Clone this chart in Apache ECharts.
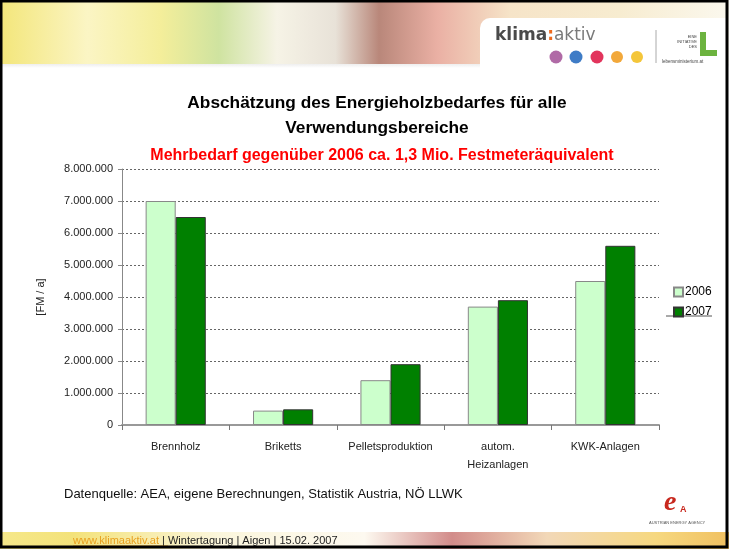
<!DOCTYPE html>
<html>
<head>
<meta charset="utf-8">
<script src="https://cdn.jsdelivr.net/npm/echarts@6/dist/echarts.min.js"></script>
<style>
  html, body { margin: 0; padding: 0; background: #fff; }
  #main { width: 729px; height: 549px; }
</style>
</head>
<body>
<div id="main"></div>
<script>
// categories and values (FM / a)
const categories = ['Brennholz', 'Briketts', 'Pelletsproduktion', 'autom.\nHeizanlagen', 'KWK-Anlagen'];
const values2006 = [7000000, 450000, 1400000, 3700000, 4500000];
const values2007 = [6500000, 490000, 1900000, 3900000, 5600000];
const seriesNames = ['2006', '2007'];

const fmt = function (v) {
    return String(v).replace(/\B(?=(\d{3})+(?!\d))/g, '.');
};

let chart = echarts.init(document.getElementById('main'));

let option = {
    animation: false,
    backgroundColor: '#fff',
    title: [{
        text: 'Abschätzung des Energieholzbedarfes für alle\nVerwendungsbereiche',
        left: 372,
        top: 86,
        textAlign: 'center',
        textStyle: {
            fontFamily: 'Liberation Sans',
            fontSize: 17.3,
            fontWeight: 'bold',
            color: '#000',
            lineHeight: 25
        }
    }, {
        text: 'Mehrbedarf gegenüber 2006 ca. 1,3 Mio. Festmeteräquivalent',
        left: 377,
        top: 143,
        textAlign: 'center',
        textStyle: {
            fontFamily: 'Liberation Sans',
            fontSize: 16,
            fontWeight: 'bold',
            color: '#ff0000'
        }
    }],
    legend: {
        orient: 'vertical',
        left: 668,
        top: 281,
        itemWidth: 9,
        itemHeight: 9,
        itemGap: 8,
        icon: 'rect',
        data: seriesNames,
        textStyle: {
            fontFamily: 'Liberation Sans',
            fontSize: 12,
            color: '#000',
            padding: [0, 0, 0, -3]
        }
    },
    grid: {
        left: 122,
        right: 70,
        top: 169,
        bottom: 124
    },
    xAxis: {
        type: 'category',
        data: categories,
        axisLine: { lineStyle: { color: '#999', width: 2 } },
        axisTick: { show: true, interval: 0, alignWithLabel: false, length: 5, lineStyle: { color: '#777' } },
        axisLabel: {
            interval: 0,
            fontFamily: 'Liberation Sans',
            fontSize: 11,
            color: '#222',
            margin: 13,
            lineHeight: 18
        }
    },
    yAxis: {
        type: 'value',
        min: 0,
        max: 8000000,
        interval: 1000000,
        name: '[FM / a]',
        nameLocation: 'middle',
        nameGap: 76,
        nameRotate: 90,
        nameTextStyle: {
            fontFamily: 'Liberation Sans',
            fontSize: 11,
            color: '#222'
        },
        axisLine: { show: true, lineStyle: { color: '#888', width: 1 } },
        axisTick: { show: true, length: 4, lineStyle: { color: '#888' } },
        axisLabel: {
            fontFamily: 'Liberation Sans',
            fontSize: 11,
            color: '#222',
            margin: 9,
            formatter: fmt
        },
        splitLine: {
            show: true,
            lineStyle: { color: '#666', type: [2, 2], width: 1 }
        }
    },
    series: [{
        name: seriesNames[0],
        type: 'bar',
        data: values2006,
        barGap: '0%',
        barCategoryGap: '44%',
        itemStyle: {
            color: '#ccffcc',
            borderColor: '#888',
            borderWidth: 1
        }
    }, {
        name: seriesNames[1],
        type: 'bar',
        data: values2007,
        itemStyle: {
            color: '#008000',
            borderColor: '#333',
            borderWidth: 1
        }
    }],
    graphic: [
        // header banner
        {
            type: 'rect',
            shape: { x: 0, y: 0, width: 729, height: 64 },
            style: {
                fill: new echarts.graphic.LinearGradient(0, 0, 1, 0, [
                    { offset: 0, color: '#f3e67a' },
                    { offset: 0.12, color: '#fbf5c4' },
                    { offset: 0.22, color: '#f4ee9a' },
                    { offset: 0.3, color: '#cfe3a0' },
                    { offset: 0.38, color: '#f6f3e6' },
                    { offset: 0.46, color: '#e8e2d8' },
                    { offset: 0.52, color: '#b9877a' },
                    { offset: 0.6, color: '#eab0a4' },
                    { offset: 0.7, color: '#f6e4c8' },
                    { offset: 0.85, color: '#f7ecd0' },
                    { offset: 1, color: '#fbf8ee' }
                ])
            },
            silent: true
        },
        {
            type: 'rect',
            shape: { x: 0, y: 64, width: 729, height: 4 },
            style: {
                fill: new echarts.graphic.LinearGradient(0, 0, 0, 1, [
                    { offset: 0, color: '#eeeeee' },
                    { offset: 1, color: '#ffffff' }
                ])
            },
            silent: true
        },
        {
            type: 'rect',
            shape: { x: 480, y: 18, width: 248, height: 51, r: [10, 0, 0, 0] },
            style: { fill: '#ffffff' },
            silent: true
        },
        {
            type: 'text',
            x: 495,
            y: 27,
            style: {
                text: '{a|klima}{c|:}{b|aktiv}',
                rich: {
                    a: { fontFamily: 'DejaVu Sans', fontSize: 17, fontWeight: 'bold', fill: '#4a4a4a' },
                    c: { fontFamily: 'DejaVu Sans', fontSize: 17, fontWeight: 'bold', fill: '#ee6a1e' },
                    b: { fontFamily: 'DejaVu Sans', fontSize: 17, fill: '#7a7a7a' }
                }
            },
            silent: true
        },
        { type: 'circle', shape: { cx: 556, cy: 57, r: 6.5 }, style: { fill: '#b06aa6' }, silent: true },
        { type: 'circle', shape: { cx: 576, cy: 57, r: 6.5 }, style: { fill: '#3f7cc6' }, silent: true },
        { type: 'circle', shape: { cx: 597, cy: 57, r: 6.5 }, style: { fill: '#e2345c' }, silent: true },
        { type: 'circle', shape: { cx: 617, cy: 57, r: 6 }, style: { fill: '#f2a83a' }, silent: true },
        { type: 'circle', shape: { cx: 637, cy: 57, r: 6 }, style: { fill: '#f4c63a' }, silent: true },
        { type: 'line', shape: { x1: 656, y1: 30, x2: 656, y2: 63 }, style: { stroke: '#aaa', lineWidth: 1 }, silent: true },
        {
            type: 'text',
            x: 697,
            y: 34,
            style: {
                text: 'EINE\nINITIATIVE\nDES',
                fontFamily: 'Liberation Sans',
                fontSize: 4,
                lineHeight: 5,
                fill: '#444',
                align: 'right'
            },
            silent: true
        },
        { type: 'rect', shape: { x: 700, y: 32, width: 6, height: 24 }, style: { fill: '#6cb33f' }, silent: true },
        { type: 'rect', shape: { x: 700, y: 50, width: 17, height: 6 }, style: { fill: '#6cb33f' }, silent: true },
        {
            type: 'text',
            x: 662,
            y: 59,
            style: { text: 'lebensministerium.at', fontFamily: 'Liberation Sans', fontSize: 4.5, fill: '#444' },
            silent: true
        },
        // legend underline
        { type: 'line', shape: { x1: 666, y1: 316, x2: 712, y2: 316 }, style: { stroke: '#555', lineWidth: 1 }, silent: true },
        // source note
        {
            type: 'text',
            x: 64,
            y: 488,
            style: {
                text: 'Datenquelle: AEA, eigene Berechnungen, Statistik Austria, NÖ LLWK',
                fontFamily: 'Liberation Sans',
                fontSize: 13,
                fill: '#111'
            },
            silent: true
        },
        // AEA logo
        {
            type: 'text',
            x: 664,
            y: 489,
            style: {
                text: 'e',
                fontFamily: 'Liberation Serif',
                fontSize: 28,
                fontStyle: 'italic',
                fontWeight: 'bold',
                fill: '#c8281e'
            },
            silent: true
        },
        {
            type: 'text',
            x: 680,
            y: 505,
            style: { text: 'A', fontFamily: 'Liberation Sans', fontSize: 9, fontWeight: 'bold', fill: '#c8281e' },
            silent: true
        },
        {
            type: 'text',
            x: 649,
            y: 521,
            style: { text: 'AUSTRIAN ENERGY AGENCY', fontFamily: 'Liberation Sans', fontSize: 4, fill: '#555' },
            silent: true
        },
        // footer banner
        {
            type: 'rect',
            shape: { x: 0, y: 532, width: 729, height: 17 },
            style: {
                fill: new echarts.graphic.LinearGradient(0, 0, 1, 0, [
                    { offset: 0, color: '#f6e88a' },
                    { offset: 0.1, color: '#f3e27a' },
                    { offset: 0.3, color: '#fbf6dc' },
                    { offset: 0.5, color: '#fdf9f0' },
                    { offset: 0.62, color: '#d28c8a' },
                    { offset: 0.75, color: '#f2d8b8' },
                    { offset: 0.9, color: '#f6d880' },
                    { offset: 1, color: '#f0c060' }
                ])
            },
            silent: true
        },
        {
            type: 'text',
            x: 73,
            y: 535,
            style: {
                text: '{a|www.klimaaktiv.at}{b| | Wintertagung | Aigen | 15.02. 2007}',
                rich: {
                    a: { fontFamily: 'Liberation Sans', fontSize: 11, fill: '#e8a020' },
                    b: { fontFamily: 'Liberation Sans', fontSize: 11, fill: '#222' }
                }
            },
            silent: true
        },
        { type: 'line', shape: { x1: 73, y1: 546, x2: 168, y2: 546 }, style: { stroke: '#e8a020', lineWidth: 1 }, silent: true },
        // slide frame
        {
            type: 'rect',
            shape: { x: 1, y: 1, width: 726, height: 546 },
            style: { fill: 'none', stroke: '#000', lineWidth: 3 },
            silent: true,
            z: 100
        }
    ]
};

chart.setOption(option);
window.addEventListener('resize', function () {
    chart.resize();
});
</script>
</body>
</html>
